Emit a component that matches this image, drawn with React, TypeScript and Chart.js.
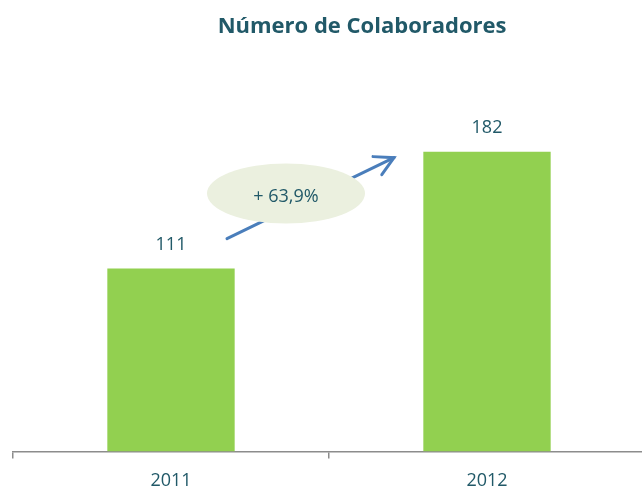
import React, { useEffect, useRef } from "react";
import { Chart, registerables } from "chart.js";

Chart.register(...registerables);

const TITLE = "Número de Colaboradores";
const categories = ["2011", "2012"];
const collaborators = [111, 182];
const growthLabel = "+ 63,9%";
const yMin = 0;
const yMax = 200;

const TEAL = "#215968";
const GREEN = "#92D050";
const AXIS = "#8C8C8C";
const ARROW = "#4A7EBB";
const ELLIPSE = "#EBF0DF";
const FONT = "'Open Sans', 'DejaVu Sans', sans-serif";

const overlayPlugin = {
  id: "overlay",
  afterDatasetsDraw(chart: any) {
    const { ctx, scales } = chart;
    const xs = scales.x;
    const ys = scales.y;
    ctx.save();

    // title
    ctx.fillStyle = TEAL;
    ctx.font = `bold 22px ${FONT}`;
    ctx.textAlign = "center";
    ctx.textBaseline = "middle";
    ctx.fillText(TITLE, 642 * 0.564, 27);

    // value labels
    ctx.font = `18px ${FONT}`;
    collaborators.forEach((v, i) => {
      const x = xs.getPixelForValue(i);
      const y = ys.getPixelForValue(v);
      ctx.fillText(String(v), x, y - 24);
    });

    // arrow
    const x0 = xs.getPixelForValue(0);
    const x1 = xs.getPixelForValue(1);
    const yA = ys.getPixelForValue(collaborators[0]);
    const yB = ys.getPixelForValue(collaborators[1]);
    const sx = x0 + 56;
    const sy = yA - 30;
    const ex = x1 - 93;
    const ey = yB + 6;
    ctx.strokeStyle = ARROW;
    ctx.lineWidth = 3;
    ctx.lineCap = "round";
    ctx.beginPath();
    ctx.moveTo(sx, sy);
    ctx.lineTo(ex, ey);
    ctx.stroke();
    const ang = Math.atan2(ey - sy, ex - sx);
    const head = 21;
    const spread = 0.5;
    ctx.beginPath();
    ctx.moveTo(ex - head * Math.cos(ang - spread), ey - head * Math.sin(ang - spread));
    ctx.lineTo(ex, ey);
    ctx.lineTo(ex - head * Math.cos(ang + spread), ey - head * Math.sin(ang + spread));
    ctx.stroke();

    // ellipse with growth label
    const cx = sx + 59;
    const cy = sy - 45;
    ctx.fillStyle = ELLIPSE;
    ctx.beginPath();
    ctx.ellipse(cx, cy, 79, 30, 0, 0, Math.PI * 2);
    ctx.fill();
    ctx.fillStyle = TEAL;
    ctx.font = `18px ${FONT}`;
    ctx.fillText(growthLabel, cx, cy + 3);

    ctx.restore();
  },
};

export default function App() {
  const ref = useRef<HTMLCanvasElement>(null);
  useEffect(() => {
    if (!ref.current) return;
    const chart = new Chart(ref.current, {
      type: "bar",
      data: {
        labels: categories,
        datasets: [
          {
            data: collaborators,
            backgroundColor: GREEN,
            borderWidth: 0,
            categoryPercentage: 1,
            barPercentage: 0.403,
          },
        ],
      },
      options: {
        responsive: false,
        animation: false,
        devicePixelRatio: 1,
        layout: { padding: { top: 122, left: 13, right: 0, bottom: 0 } },
        plugins: {
          legend: { display: false },
          title: { display: false },
          tooltip: { enabled: false },
        },
        scales: {
          x: {
            grid: {
              display: true,
              drawOnChartArea: false,
              drawTicks: true,
              tickLength: 7,
              color: AXIS,
              lineWidth: 1.5,
              offset: true,
            },
            border: { display: true, color: AXIS, width: 1.5 },
            ticks: {
              color: TEAL,
              font: { family: FONT, size: 18 },
              padding: 12,
            },
          },
          y: { display: false, min: yMin, max: yMax },
        },
      },
      plugins: [overlayPlugin],
    });
    return () => chart.destroy();
  }, []);

  return (
    <div
      style={{
        position: "absolute",
        left: 0,
        top: 0,
        width: 642,
        height: 488,
        overflow: "hidden",
        background: "#fff",
      }}
    >
      <canvas ref={ref} width={645} height={504} style={{ display: "block" }} />
    </div>
  );
}
